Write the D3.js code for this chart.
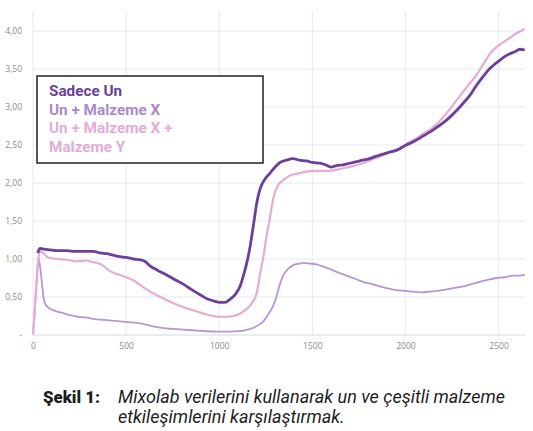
<!DOCTYPE html>
<html>
<head>
<meta charset="utf-8">
<script src="https://cdn.jsdelivr.net/npm/d3@7"></script>
<style>
  body { margin: 0; background: #fff; }
  svg { display: block; }
</style>
</head>
<body>
<script>
// time (x) and torque-like values (y)
const sadeceUnT = [25, 38, 60, 91, 130, 180, 230, 270, 324, 360, 396, 430, 467, 500, 539, 575, 600, 628, 670, 718, 760, 807, 850, 897, 940, 968, 1004, 1030, 1058, 1085, 1112, 1130, 1147, 1165, 1174, 1190, 1201, 1219, 1240, 1273, 1300, 1326, 1360, 1397, 1430, 1469, 1500, 1541, 1570, 1600, 1630, 1665, 1700, 1736, 1770, 1808, 1840, 1880, 1920, 1951, 2005, 2040, 2077, 2110, 2149, 2202, 2240, 2273, 2310, 2345, 2380, 2417, 2450, 2488, 2525, 2560, 2590, 2614, 2641];
const sadeceUnV = [1.08, 1.14, 1.13, 1.12, 1.11, 1.11, 1.10, 1.10, 1.10, 1.08, 1.07, 1.05, 1.03, 1.02, 1.00, 0.99, 0.97, 0.91, 0.85, 0.79, 0.73, 0.67, 0.60, 0.53, 0.47, 0.45, 0.43, 0.43, 0.47, 0.53, 0.64, 0.78, 0.94, 1.15, 1.29, 1.55, 1.73, 1.92, 2.03, 2.13, 2.21, 2.27, 2.30, 2.32, 2.30, 2.29, 2.27, 2.26, 2.24, 2.21, 2.23, 2.24, 2.26, 2.28, 2.30, 2.32, 2.35, 2.38, 2.41, 2.43, 2.50, 2.54, 2.59, 2.64, 2.70, 2.79, 2.87, 2.95, 3.05, 3.15, 3.28, 3.40, 3.50, 3.58, 3.65, 3.70, 3.73, 3.76, 3.75];

const malzemeXT = [0, 10, 20, 29, 38, 47, 56, 64, 82, 105, 127, 160, 199, 240, 288, 330, 378, 420, 467, 510, 557, 600, 650, 700, 750, 807, 870, 930, 987, 1050, 1112, 1150, 1180, 1210, 1237, 1260, 1289, 1309, 1325, 1343, 1370, 1398, 1430, 1450, 1490, 1522, 1560, 1593, 1640, 1683, 1730, 1772, 1820, 1862, 1910, 1951, 2000, 2041, 2090, 2130, 2175, 2220, 2265, 2310, 2355, 2399, 2445, 2488, 2530, 2578, 2610, 2641];
const malzemeXV = [0.00, 0.35, 0.75, 1.01, 0.90, 0.71, 0.50, 0.42, 0.36, 0.33, 0.31, 0.29, 0.26, 0.24, 0.23, 0.21, 0.20, 0.19, 0.18, 0.17, 0.16, 0.14, 0.11, 0.09, 0.08, 0.07, 0.06, 0.05, 0.045, 0.045, 0.05, 0.07, 0.09, 0.13, 0.18, 0.26, 0.38, 0.52, 0.66, 0.78, 0.87, 0.92, 0.94, 0.95, 0.94, 0.93, 0.90, 0.87, 0.82, 0.78, 0.74, 0.70, 0.67, 0.64, 0.61, 0.59, 0.58, 0.57, 0.56, 0.57, 0.58, 0.60, 0.62, 0.64, 0.67, 0.70, 0.73, 0.75, 0.76, 0.78, 0.78, 0.79];

const malzemeXYT = [0, 10, 20, 30, 40, 50, 74, 100, 128, 181, 235, 288, 320, 342, 378, 413, 440, 467, 500, 539, 575, 610, 660, 718, 770, 825, 880, 933, 970, 1004, 1040, 1076, 1110, 1147, 1175, 1201, 1219, 1235, 1254, 1273, 1289, 1305, 1326, 1350, 1379, 1414, 1469, 1504, 1541, 1593, 1640, 1683, 1730, 1772, 1820, 1862, 1910, 1951, 1990, 2023, 2060, 2095, 2130, 2166, 2200, 2238, 2275, 2310, 2345, 2381, 2420, 2453, 2490, 2524, 2560, 2596, 2620, 2641];
const malzemeXYV = [0.00, 0.35, 0.72, 1.02, 1.10, 1.09, 1.03, 1.01, 1.00, 0.99, 0.97, 0.98, 0.96, 0.95, 0.91, 0.84, 0.81, 0.79, 0.76, 0.72, 0.66, 0.60, 0.53, 0.46, 0.40, 0.35, 0.31, 0.27, 0.25, 0.24, 0.24, 0.25, 0.28, 0.34, 0.42, 0.55, 0.80, 1.00, 1.30, 1.55, 1.78, 1.92, 2.00, 2.05, 2.10, 2.12, 2.15, 2.16, 2.16, 2.16, 2.18, 2.20, 2.23, 2.26, 2.31, 2.35, 2.40, 2.44, 2.49, 2.54, 2.59, 2.65, 2.70, 2.77, 2.86, 2.97, 3.09, 3.20, 3.31, 3.42, 3.57, 3.70, 3.79, 3.85, 3.91, 3.97, 4.00, 4.03];

const legendLabels = ["Sadece Un", "Un + Malzeme X", "Un + Malzeme X +", "Malzeme Y"];
const xTicks = [0, 500, 1000, 1500, 2000, 2500];
const yTicks = [0, 0.5, 1, 1.5, 2, 2.5, 3, 3.5, 4];
const captionLabel = "Şekil 1:";
const captionLines = ["Mixolab verilerini kullanarak un ve çeşitli malzeme", "etkileşimlerini karşılaştırmak."];

const W = 533, H = 431;
const plot = { left: 33, right: 525, top: 11, bottom: 335 };
const colors = { dark: "#6b3f9c", light: "#b598d3", pink: "#e4acd6" };

const svg = d3.select("body").append("svg")
  .attr("width", W).attr("height", H);
svg.append("rect").attr("width", W).attr("height", H).attr("fill", "#fff");

const x = d3.scaleLinear().domain([0, 2642]).range([plot.left, plot.right]);
const y = d3.scaleLinear().domain([0, (plot.bottom - plot.top) / 76]).range([plot.bottom, plot.top]);

// grid
const grid = svg.append("g").attr("class", "grid");
grid.selectAll("line.h").data(yTicks.filter(d => d > 0)).enter().append("line")
  .attr("x1", plot.left).attr("x2", plot.right)
  .attr("y1", d => y(d)).attr("y2", d => y(d))
  .attr("stroke", "#e6e8ef").attr("stroke-width", 1);
grid.selectAll("line.v").data(xTicks).enter().append("line")
  .attr("x1", d => x(d)).attr("x2", d => x(d))
  .attr("y1", plot.top).attr("y2", plot.bottom)
  .attr("stroke", "#e6e8ef").attr("stroke-width", 1);
svg.append("line")
  .attr("x1", plot.left).attr("x2", plot.right)
  .attr("y1", y(0)).attr("y2", y(0))
  .attr("stroke", "#d6d8de").attr("stroke-width", 1);

// axes
const fmt = d => d === 0 ? "-" : d3.format(".2f")(d).replace(".", ",");
const yAxis = svg.append("g")
  .attr("transform", `translate(${plot.left},0)`)
  .call(d3.axisLeft(y).tickValues(yTicks).tickFormat(fmt).tickSize(0).tickPadding(11));
const xAxis = svg.append("g")
  .attr("transform", `translate(0,${plot.bottom})`)
  .call(d3.axisBottom(x).tickValues(xTicks).tickFormat(d => d).tickSize(0).tickPadding(8));
[yAxis, xAxis].forEach(a => {
  a.select(".domain").remove();
  a.selectAll("text")
    .attr("fill", "#8a8a8a")
    .style("font-family", "'Open Sans', sans-serif")
    .style("font-size", "8.5px");
});

// lines
const line = d3.line().x(d => x(d[0])).y(d => y(d[1])).curve(d3.curveMonotoneX);
const series = [
  { t: malzemeXT, v: malzemeXV, color: colors.light, w: 1.8 },
  { t: malzemeXYT, v: malzemeXYV, color: colors.pink, w: 2.2 },
  { t: sadeceUnT, v: sadeceUnV, color: colors.dark, w: 2.8 }
];
svg.append("g").selectAll("path").data(series).enter().append("path")
  .attr("d", s => line(s.t.map((t, i) => [t, s.v[i]])))
  .attr("fill", "none")
  .attr("stroke", s => s.color)
  .attr("stroke-width", s => s.w)
  .attr("stroke-linejoin", "round");

// legend
const legend = svg.append("g").attr("transform", "translate(37,76)");
legend.append("rect")
  .attr("width", 226).attr("height", 87)
  .attr("fill", "#fff").attr("stroke", "#2e2e2e").attr("stroke-width", 1.6);
const legendColors = [colors.dark, "#a88bc8", colors.pink, colors.pink];
legend.selectAll("text").data(legendLabels).enter().append("text")
  .attr("x", 12).attr("y", (d, i) => 20 + i * 18.6)
  .attr("fill", (d, i) => legendColors[i])
  .style("font-family", "Roboto, sans-serif")
  .style("font-weight", 700)
  .style("font-size", "15.3px")
  .text(d => d);

// caption
const cap = svg.append("g").style("font-family", "Roboto, sans-serif").attr("fill", "#1e1e1e");
const capLabel = cap.append("text").attr("x", 43).attr("y", 403)
  .style("font-weight", 900).style("font-size", "16px").text(captionLabel);
const capText = cap.selectAll("text.line").data(captionLines).enter().append("text")
  .attr("class", "line")
  .attr("x", 118).attr("y", (d, i) => 403 + i * 19.5)
  .style("font-style", "italic").style("font-size", "16px")
  .text(d => d);

// fit caption widths to the reference layout
const fitLabel = 57 / capLabel.node().getComputedTextLength();
capLabel.style("font-size", (16 * fitLabel) + "px");
const firstLen = capText.nodes()[0].getComputedTextLength();
const fit = 392 / firstLen;
capText.style("font-size", Math.min(16 * fit, 18) + "px");
</script>
</body>
</html>
